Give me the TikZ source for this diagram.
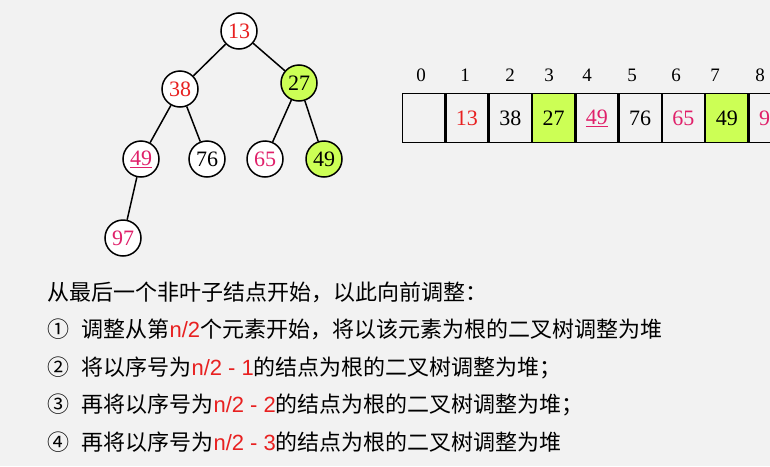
\documentclass[tikz,border=0pt]{standalone}
\usepackage{fontspec}
\setmainfont{Liberation Serif}
\setsansfont{Liberation Sans}
\newfontfamily\cjk{Noto Sans CJK SC}
\begin{document}
\begin{tikzpicture}[x=1pt,y=-1pt,
  nd/.style={circle,draw,line width=1.5pt,minimum size=36pt,inner sep=0pt,font=\fontsize{22}{22}\selectfont},
  cell/.style={draw,line width=1.3pt,minimum width=42pt,minimum height=49pt,inner sep=0pt,anchor=west,font=\fontsize{22}{22}\selectfont},
  idx/.style={font=\fontsize{19}{19}\selectfont},
  ln/.style={anchor=west,font=\cjk\fontsize{22}{22}\selectfont},
  edge/.style={line width=1.5pt}]
\definecolor{rd}{HTML}{E82020}
\definecolor{pk}{HTML}{E0206A}
\definecolor{gr}{HTML}{CCFF55}
\fill[white!95!black] (0,0) rectangle (770,466);
\useasboundingbox (0,0) rectangle (770,466);
% tree
\node[nd,fill=white,text=rd] (a) at (239,31) {13};
\node[nd,fill=white,text=rd] (b) at (180,89) {38};
\node[nd,fill=gr] (c) at (299,83) {27};
\node[nd,fill=white,text=pk] (d) at (141,159) {\underline{49}};
\node[nd,fill=white] (e) at (207,159) {76};
\node[nd,fill=white,text=pk] (f) at (265,159) {65};
\node[nd,fill=gr] (g) at (324,159) {49};
\node[nd,fill=white,text=pk] (h) at (123,238) {97};
\draw[edge] (a)--(b) (a)--(c) (b)--(d) (b)--(e) (c)--(f) (c)--(g) (d)--(h);
% array
\node[cell] (c0) at (402,118) {};
\node[cell,text=rd] (c1) at (c0.east) {13};
\node[cell] (c2) at (c1.east) {38};
\node[cell,fill=gr] (c3) at (c2.east) {27};
\node[cell,text=pk] (c4) at (c3.east) {\underline{49}};
\node[cell] (c5) at (c4.east) {76};
\node[cell,text=pk] (c6) at (c5.east) {65};
\node[cell,fill=gr] (c7) at (c6.east) {49};
\node[cell,text=pk] (c8) at (c7.east) {97};
\foreach \i/\x in {0/421,1/465,2/510,3/549,4/587,5/632,6/676,7/715,8/760}
  \node[idx] (i\i) at (\x,75) {\i};
% text
\node[ln] (t0) at (44,292) {从最后一个非叶子结点开始，以此向前调整：};
\node[ln] (t1) at (44,329) {①\hspace{12pt}调整从第{\sffamily\color{rd}n/2}个元素开始，将以该元素为根的二叉树调整为堆};
\node[ln] (t2) at (44,368) {②\hspace{12pt}将以序号为{\sffamily\color{rd}n/2 - 1}的结点为根的二叉树调整为堆；};
\node[ln] (t3) at (44,405) {③\hspace{12pt}再将以序号为{\sffamily\color{rd}n/2 - 2}的结点为根的二叉树调整为堆；};
\node[ln] (t4) at (44,442) {④\hspace{12pt}再将以序号为{\sffamily\color{rd}n/2 - 3}的结点为根的二叉树调整为堆};
\end{tikzpicture}
\end{document}
